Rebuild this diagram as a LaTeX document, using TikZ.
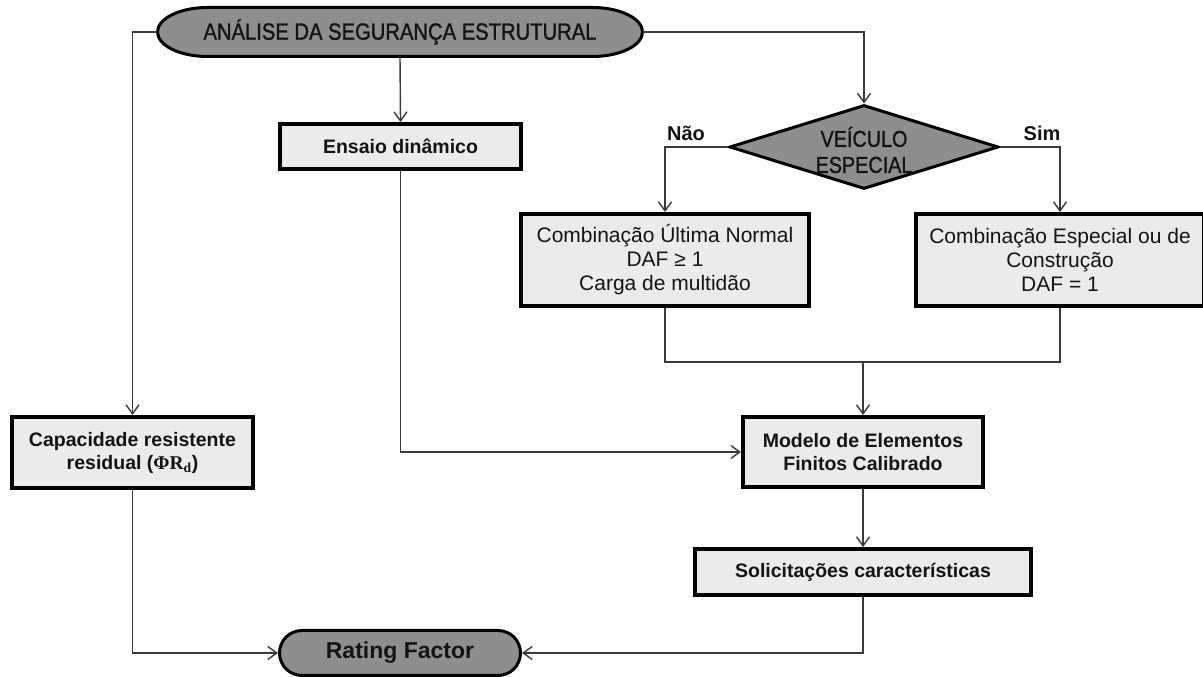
\documentclass[tikz,border=0pt]{standalone}
\usepackage{fontspec}
\setmainfont{Liberation Sans}
\newfontfamily\narrowsans[FakeStretch=0.86,FakeBold=1.3]{Liberation Sans}
\newfontfamily\greekserif{Liberation Serif}
\usetikzlibrary{arrows.meta,shapes.geometric,shapes.misc}

\definecolor{boxfill}{HTML}{EBEBEB}
\definecolor{darkfill}{HTML}{8E8E8E}
\definecolor{inkline}{HTML}{3A3A3A}
\definecolor{inktext}{HTML}{141414}

\begin{document}
\begin{tikzpicture}[x=1pt,y=1pt,
  box/.style={draw=black, line width=4pt, fill=boxfill, inner sep=0pt,
    align=center, text=inktext},
  regtext/.style={font=\fontsize{21}{24}\selectfont},
  boldtext/.style={font=\fontsize{19.5}{23}\selectfont\bfseries},
  terminal/.style={draw=black, line width=3pt, fill=darkfill, inner sep=0pt,
    align=center, text=inktext},
  conn/.style={draw=inkline, line width=1.4pt,
    -{Straight Barb[length=9pt,width=13pt,line width=1.4pt]}},
  link/.style={draw=inkline, line width=1.4pt},
  branchlabel/.style={font=\fontsize{20}{24}\selectfont\bfseries, text=inktext}
]
% page frame
\fill[white] (0,0) rectangle (1203,677);
\useasboundingbox (0,0) rectangle (1203,677);

% start terminal with elliptic ends
\filldraw[draw=black, line width=3pt, fill=darkfill]
  (207.5,669.5) -- (592.5,669.5)
  arc[start angle=90, end angle=-90, x radius=50, y radius=24.5]
  -- (207.5,620.5)
  arc[start angle=270, end angle=90, x radius=50, y radius=24.5] -- cycle;
\node[inner sep=0pt, minimum width=485pt, minimum height=49pt, text=inktext,
  font=\narrowsans\fontsize{23.5}{26}\selectfont] (top) at (400,645)
  {ANÁLISE DA SEGURANÇA ESTRUTURAL};

% process boxes
\node[box, boldtext, minimum width=241pt, minimum height=45pt] (ens)
  at (400.5,530.5) {Ensaio dinâmico};
\node[box, boldtext, minimum width=241pt, minimum height=71pt] (cap)
  at (132.5,224.5)
  {Capacidade resistente\\residual ({\greekserif ΦR\textsubscript{d}})};
\node[box, regtext, minimum width=288pt, minimum height=92pt] (comb1)
  at (665,417) {Combinação Última Normal\\DAF ≥ 1\\Carga de multidão};
\node[box, regtext, minimum width=288pt, minimum height=92pt] (comb2)
  at (1060,417) {Combinação Especial ou de\\Construção\\DAF = 1};
\node[box, boldtext, minimum width=240pt, minimum height=70pt] (mod)
  at (863,225) {Modelo de Elementos\\Finitos Calibrado};
\node[box, boldtext, minimum width=336pt, minimum height=46pt] (sol)
  at (863,105) {Solicitações características};

% decision
\node[diamond, draw=black, line width=3pt, fill=darkfill, inner sep=0pt,
  minimum width=269pt, minimum height=84pt] (dia) at (864,530) {};
\node[align=center, text=inktext, inner sep=0pt,
  font=\narrowsans\fontsize{23}{26}\selectfont] (dialabel) at (864,527)
  {VEÍCULO\\ESPECIAL};
\node[branchlabel] (nao) at (686,544) {Não};
\node[branchlabel] (sim) at (1042,544) {Sim};

% end terminal
\node[rounded rectangle, terminal, minimum width=241pt, minimum height=45pt,
  font=\fontsize{23}{26}\selectfont\bfseries] (rf) at (400,24) {Rating Factor};

% connectors
\coordinate (merge) at (863,315);
\draw[conn] (top.west) -| (cap.north);
\draw[conn] (top.south) -- (ens.north);
\draw[conn] (top.east) -| (dia.north);
\draw[conn] (ens.south) |- (mod.west);
\draw[conn] (dia.west) -| (comb1.north);
\draw[conn] (dia.east) -| (comb2.north);
\draw[link] (comb1.south) |- (merge);
\draw[link] (comb2.south) |- (merge);
\draw[conn] (merge) -- (mod.north);
\draw[conn] (mod.south) -- (sol.north);
\draw[conn] (sol.south) |- (rf.east);
\draw[conn] (cap.south) |- (rf.west);
\end{tikzpicture}
\end{document}
